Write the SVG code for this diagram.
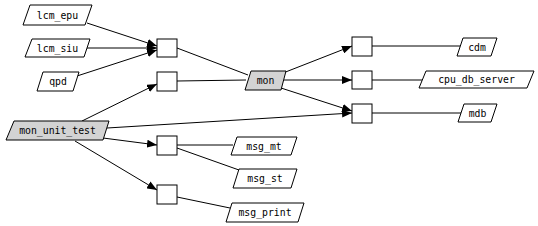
<svg xmlns="http://www.w3.org/2000/svg" width="538" height="226" viewBox="0 0 538 226">
<defs>
<marker id="ah" viewBox="0 0 10 8" refX="10" refY="4" markerWidth="10" markerHeight="8" markerUnits="userSpaceOnUse" orient="auto">
<path d="M0,0 L10,4 L0,8 Z" fill="#000"/>
</marker>
</defs>
<style>
.n{fill:#fff;stroke:#000;stroke-width:1}
.g{fill:#d3d3d3;stroke:#000;stroke-width:1}
.b{fill:#fff;stroke:#000;stroke-width:1}
.t{font-family:"DejaVu Sans Mono","Liberation Mono",monospace;font-size:9.8px;fill:#000;text-anchor:middle;dominant-baseline:central}
.e{fill:none;stroke:#000;stroke-width:1}
.a{marker-end:url(#ah)}
</style>
<rect width="538" height="226" fill="#fff"/>
<g id="connectors">
<path class="e a" d="M87,23 L157,46"/>
<path class="e a" d="M87,48 L157,48"/>
<path class="e a" d="M77,76 L157,50"/>
<path class="e" d="M177,48 L248,75"/>
<path class="e" d="M177,81 L246,80"/>
<path class="e a" d="M82,121 L157,84"/>
<path class="e a" d="M107,128 L352,113"/>
<path class="e a" d="M103,138 L157,145"/>
<path class="e a" d="M75,141 L157,190"/>
<path class="e" d="M177,145 L233,145"/>
<path class="e" d="M177,148 L239,170"/>
<path class="e" d="M177,197 L230,208"/>
<path class="e a" d="M283,73 L352,46"/>
<path class="e a" d="M284,80 L352,80"/>
<path class="e a" d="M281,88 L352,111"/>
<path class="e" d="M372,46 L460,46"/>
<path class="e" d="M372,80 L422,80"/>
<path class="e" d="M372,113 L461,113"/>
</g>
<g id="lcm_epu"><polygon class="n" points="30,5 92,5 85,25 23,25"/><text class="t" x="57.5" y="15.5">lcm_epu</text></g>
<g id="lcm_siu"><polygon class="n" points="32,39 90,39 84,57 25,57"/><text class="t" x="57.5" y="48">lcm_siu</text></g>
<g id="qpd"><polygon class="n" points="43,72 79,72 73,91 37,91"/><text class="t" x="58" y="81.5">qpd</text></g>
<g id="mon_unit_test"><polygon class="g" points="14,121 109,121 103,140 6,140"/><text class="t" x="57.5" y="130.5">mon_unit_test</text></g>
<g id="box1"><rect class="b" x="157" y="39" width="20" height="18"/></g>
<g id="box2"><rect class="b" x="157" y="72" width="20" height="19"/></g>
<g id="box3"><rect class="b" x="157" y="136" width="20" height="19"/></g>
<g id="box4"><rect class="b" x="157" y="185" width="20" height="19"/></g>
<g id="mon"><polygon class="g" points="251,71 286,71 281,90 245,90"/><text class="t" x="265.5" y="80.5">mon</text></g>
<g id="box5"><rect class="b" x="352" y="37" width="20" height="19"/></g>
<g id="box6"><rect class="b" x="352" y="71" width="20" height="18"/></g>
<g id="box7"><rect class="b" x="352" y="104" width="20" height="19"/></g>
<g id="cdm"><polygon class="n" points="463,38 497,38 491,56 457,56"/><text class="t" x="477" y="47">cdm</text></g>
<g id="cpu_db_server"><polygon class="n" points="426,71 534,71 527,88 419,88"/><text class="t" x="476.5" y="79.5">cpu_db_server</text></g>
<g id="mdb"><polygon class="n" points="464,104 497,104 491,122 458,122"/><text class="t" x="477.5" y="113">mdb</text></g>
<g id="msg_mt"><polygon class="n" points="237,137 297,137 291,155 231,155"/><text class="t" x="264" y="146">msg_mt</text></g>
<g id="msg_st"><polygon class="n" points="239,169 297,169 291,188 233,188"/><text class="t" x="265" y="178.5">msg_st</text></g>
<g id="msg_print"><polygon class="n" points="232,203 304,203 298,222 226,222"/><text class="t" x="265" y="212.5">msg_print</text></g>
</svg>
